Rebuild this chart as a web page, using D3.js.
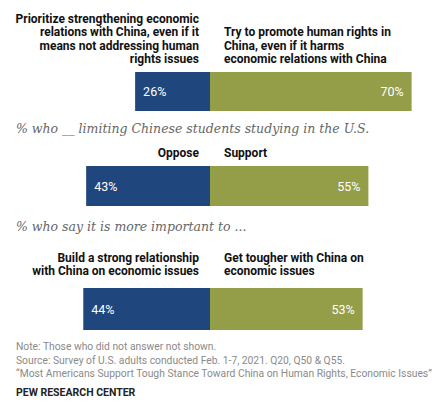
<!DOCTYPE html>
<html><head><meta charset="utf-8">
<script src="https://cdn.jsdelivr.net/npm/d3@7"></script>
<style>body{margin:0;background:#fff}</style></head>
<body><svg width="445" height="402"></svg>
<script>
const leftLabels = [
  ["Prioritize strengthening economic", "relations with China, even if it", "means not addressing human", "rights issues"],
  ["Oppose"],
  ["Build a strong relationship", "with China on economic issues"]
];
const rightLabels = [
  ["Try to promote human rights in", "China, even if it harms", "economic relations with China"],
  ["Support"],
  ["Get tougher with China on", "economic issues"]
];
const leftValues = [26, 43, 44];
const rightValues = [70, 55, 53];
const subtitles = [null, "% who __ limiting Chinese students studying in the U.S.", "% who say it is more important to ..."];
const notes = [
  "Note: Those who did not answer not shown.",
  "Source: Survey of U.S. adults conducted Feb. 1-7, 2021. Q20, Q50 & Q55.",
  "\u201cMost Americans Support Tough Stance Toward China on Human Rights, Economic Issues\u201d"
];

const svg = d3.select("svg");
const cx = 210;
const x = d3.scaleLinear().domain([0, 100]).range([0, 288]);
const barTop = [72, 166, 288];
const barH = [39, 40, 42];
const labelBottom = [63, 157, 275];
const subY = [null, 133, 231];
const sans = "Roboto, Arial, sans-serif";

leftValues.forEach((lv, i) => {
  const rv = rightValues[i];
  svg.append("rect").attr("x", cx - x(lv)).attr("y", barTop[i])
    .attr("width", x(lv)).attr("height", barH[i]).attr("fill", "#1f477d");
  svg.append("rect").attr("x", cx).attr("y", barTop[i])
    .attr("width", x(rv)).attr("height", barH[i]).attr("fill", "#949d48");
  const my = barTop[i] + barH[i] / 2 + 4.5;
  svg.append("text").attr("x", cx - x(lv) + 8).attr("y", my)
    .attr("fill", "#fff").style("font", `12.5px ${sans}`).text(lv + "%");
  svg.append("text").attr("x", cx + x(rv) - 8).attr("y", my).attr("text-anchor", "end")
    .attr("fill", "#fff").style("font", `12.5px ${sans}`).text(rv + "%");

  const ll = leftLabels[i], rl = rightLabels[i];
  ll.forEach((t, j) => {
    svg.append("text").attr("x", cx - 11).attr("y", labelBottom[i] - (ll.length - 1 - j) * 13.3)
      .attr("text-anchor", "end").style("font", `bold 12px ${sans}`).attr("fill", "#111").text(t);
  });
  rl.forEach((t, j) => {
    svg.append("text").attr("x", cx + 14).attr("y", labelBottom[i] - (rl.length - 1 - j) * 13.3)
      .style("font", `bold 12px ${sans}`).attr("fill", "#111").text(t);
  });
  if (subtitles[i]) {
    svg.append("text").attr("x", 16).attr("y", subY[i])
      .style("font", "italic 12.5px 'DejaVu Serif', 'Liberation Serif', serif").attr("fill", "#666").text(subtitles[i]);
  }
});

notes.forEach((t, j) => {
  svg.append("text").attr("x", 16).attr("y", 350 + j * 13.7)
    .style("font", `10.3px ${sans}`).attr("fill", "#8a8a8a").text(t);
});
svg.append("text").attr("x", 16).attr("y", 396)
  .style("font", `bold 10.5px ${sans}`).attr("fill", "#222").text("PEW RESEARCH CENTER");
</script></body></html>
